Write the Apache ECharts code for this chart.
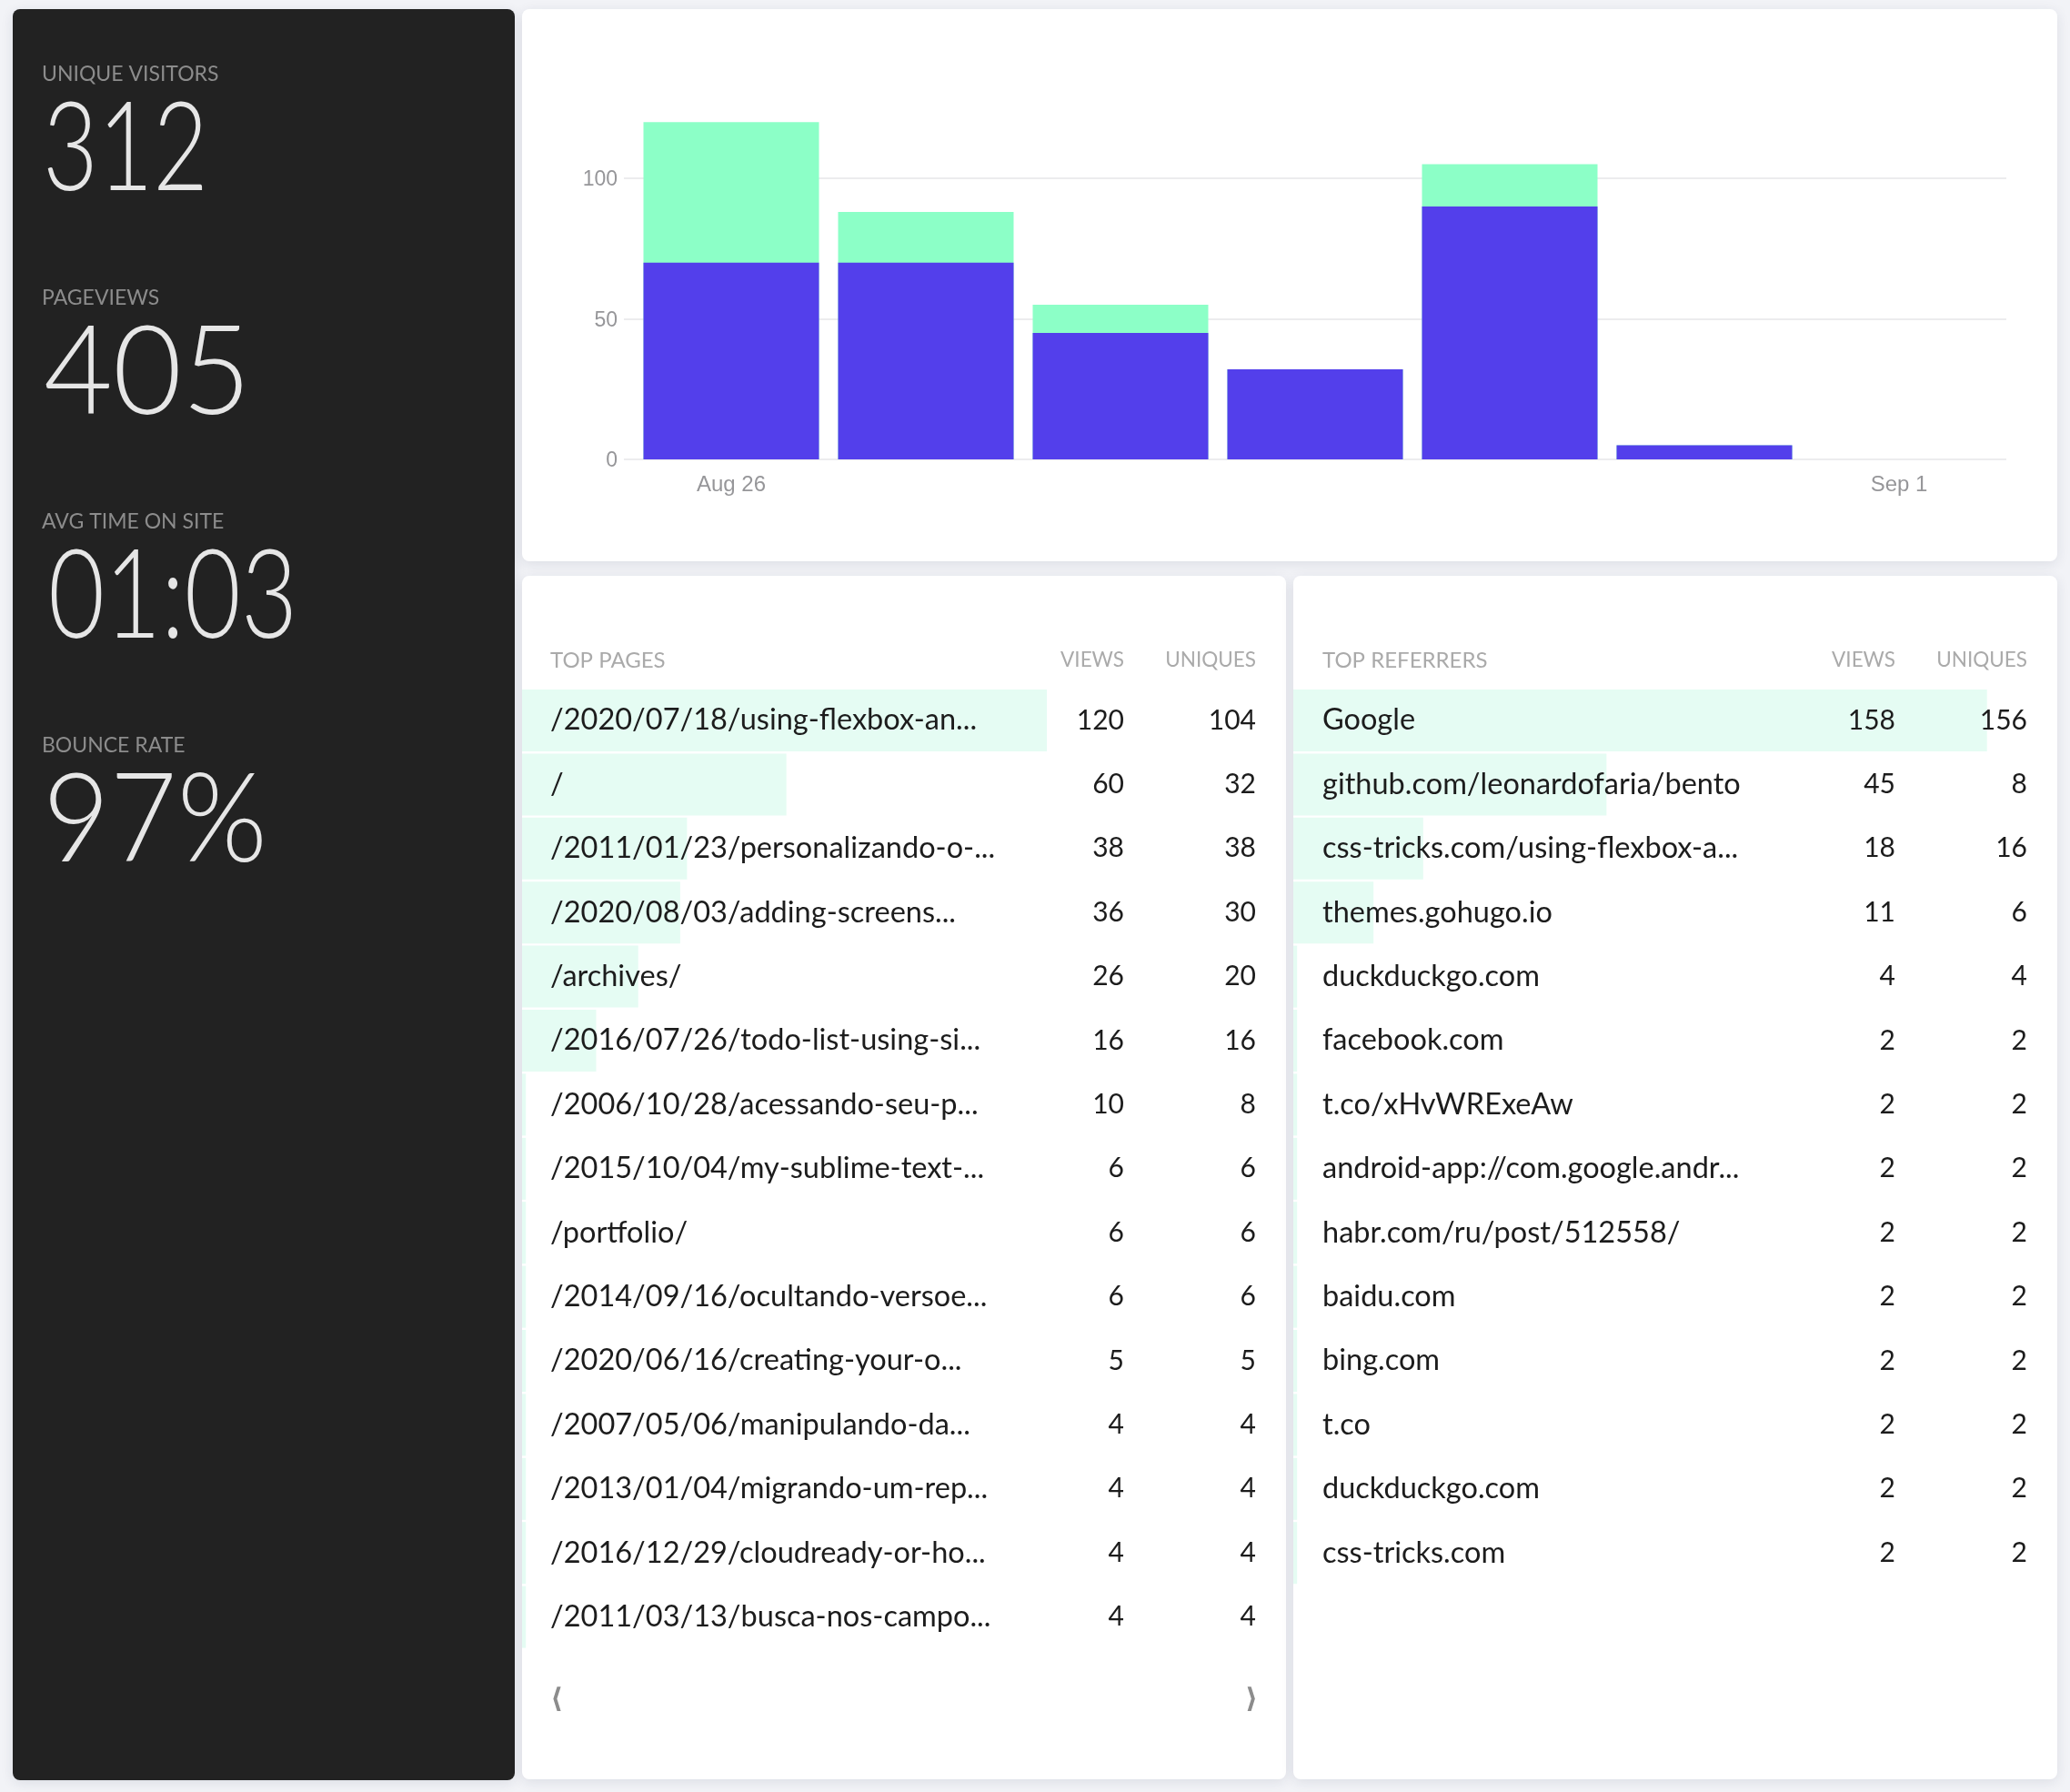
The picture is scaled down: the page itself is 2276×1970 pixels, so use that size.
<!DOCTYPE html>
<html>
<head>
<meta charset="utf-8">
<title>Site stats</title>
<script src="https://cdn.jsdelivr.net/npm/echarts@6/dist/echarts.min.js"></script>
<style>
  html, body { margin: 0; padding: 0; background: #f2f3f7; }
  #main { width: 2276px; height: 1970px; }
</style>
</head>
<body>
<div id="main"></div>
<script>
// daily chart
var days = ["Aug 26", "Aug 27", "Aug 28", "Aug 29", "Aug 30", "Aug 31", "Sep 1"];
var dayViews = [120, 88, 55, 32, 105, 5, 0];
var dayUniques = [70, 70, 45, 32, 90, 5, 0];

// left panel
var statLabels = ["UNIQUE VISITORS", "PAGEVIEWS", "AVG TIME ON SITE", "BOUNCE RATE"];
var statValues = ["312", "405", "01:03", "97%"];

// top pages
var pagePaths = [
    "/2020/07/18/using-flexbox-an...", "/", "/2011/01/23/personalizando-o-...",
    "/2020/08/03/adding-screens...", "/archives/", "/2016/07/26/todo-list-using-si...",
    "/2006/10/28/acessando-seu-p...", "/2015/10/04/my-sublime-text-...", "/portfolio/",
    "/2014/09/16/ocultando-versoe...", "/2020/06/16/creating-your-o...", "/2007/05/06/manipulando-da...",
    "/2013/01/04/migrando-um-rep...", "/2016/12/29/cloudready-or-ho...", "/2011/03/13/busca-nos-campo..."
];
var pageViews = [120, 60, 38, 36, 26, 16, 10, 6, 6, 6, 5, 4, 4, 4, 4];
var pageUniques = [104, 32, 38, 30, 20, 16, 8, 6, 6, 6, 5, 4, 4, 4, 4];
var pageBars = [68.7, 34.6, 21.6, 20.7, 15.2, 9.7, 0.5, 0.5, 0.5, 0.5, 0.5, 0.5, 0.5, 0.5, 0.5];

// top referrers
var refNames = [
    "Google", "github.com/leonardofaria/bento", "css-tricks.com/using-flexbox-a...",
    "themes.gohugo.io", "duckduckgo.com", "facebook.com", "t.co/xHvWRExeAw",
    "android-app://com.google.andr...", "habr.com/ru/post/512558/", "baidu.com",
    "bing.com", "t.co", "duckduckgo.com", "css-tricks.com"
];
var refViews = [158, 45, 18, 11, 4, 2, 2, 2, 2, 2, 2, 2, 2, 2];
var refUniques = [156, 8, 16, 6, 4, 2, 2, 2, 2, 2, 2, 2, 2, 2];
var refBars = [90.8, 41, 17, 10.5, 0.5, 0.5, 0.5, 0.5, 0.5, 0.5, 0.5, 0.5, 0.5, 0.5];

var TEXT_FONT = "Lato";
var ROW = 70.4;

var myChart = echarts.init(document.getElementById("main"));

function panel(x, y, w, h, color) {
    return {
        type: "rect", z: -10, silent: true,
        shape: { x: x, y: y, width: w, height: h, r: 8 },
        style: { fill: color, shadowBlur: 14, shadowColor: "rgba(30,35,70,0.10)", shadowOffsetY: 3 }
    };
}

function label(text, x, y, color, size, align) {
    return {
        type: "text", z: 50, silent: true, x: x, y: y,
        style: {
            text: text, fill: color, textAlign: align || "left", textVerticalAlign: "middle",
            font: size + "px " + TEXT_FONT
        }
    };
}

// big numbers: the original face is narrow, so squeeze to the measured width
var measure = document.createElement("canvas").getContext("2d");
function bigNumber(text, x, y, width) {
    var font = "300 136px " + TEXT_FONT;
    measure.font = font;
    return {
        type: "text", z: 50, silent: true, x: x, y: y,
        scaleX: width / measure.measureText(text).width,
        style: { text: text, fill: "#e6e6e6", textVerticalAlign: "middle", font: font }
    };
}

var elements = [
    panel(14, 10, 552, 1947, "#222222"),
    panel(574, 10, 1688, 607, "#ffffff"),
    panel(574, 633, 840, 1323, "#ffffff"),
    panel(1422, 633, 840, 1323, "#ffffff")
];

var statX = [47, 48, 53, 47];
var statW = [182, 228, 274, 247];
for (var i = 0; i < statLabels.length; i++) {
    elements.push(label(statLabels[i], 46, 82 + i * 246, "#8c8c8c", 23));
    elements.push(bigNumber(statValues[i], statX[i], 165 + i * 246, statW[i]));
}

elements.push(label("TOP PAGES", 605, 726, "#aaaaaa", 24));
elements.push(label("VIEWS", 1236, 726, "#aaaaaa", 22.5, "right"));
elements.push(label("UNIQUES", 1381, 726, "#aaaaaa", 22.5, "right"));
elements.push(label("TOP REFERRERS", 1454, 726, "#aaaaaa", 24));
elements.push(label("VIEWS", 2084, 726, "#aaaaaa", 22.5, "right"));
elements.push(label("UNIQUES", 2229, 726, "#aaaaaa", 22.5, "right"));

// pager
elements.push({ type: "text", z: 50, silent: true, x: 612, y: 1869,
    style: { text: "\u27E8", fill: "#8c8c8c", textAlign: "center", textVerticalAlign: "middle", font: "bold 30px 'DejaVu Sans'" } });
elements.push({ type: "text", z: 50, silent: true, x: 1376, y: 1869,
    style: { text: "\u27E9", fill: "#8c8c8c", textAlign: "center", textVerticalAlign: "middle", font: "bold 30px 'DejaVu Sans'" } });

function tableAxis(gridIndex, names, position, inside, size) {
    return {
        type: "category", gridIndex: gridIndex, data: names, inverse: true, position: position, z: 10,
        axisLine: { show: false }, axisTick: { show: false }, splitLine: { show: false },
        axisLabel: {
            inside: true, interval: 0, margin: inside, color: "#1c1c1c", fontSize: size, fontFamily: TEXT_FONT,
            align: position === "left" ? "left" : "right"
        }
    };
}

function toText(list) {
    return list.map(function (v) { return String(v); });
}

function tableBars(xAxisIndex, yAxisIndex, data) {
    return {
        type: "bar", xAxisIndex: xAxisIndex, yAxisIndex: yAxisIndex, data: data, barWidth: 68,
        itemStyle: { color: "#e5fcf3" }, silent: true, animation: false
    };
}

var option = {
    animation: false,
    backgroundColor: "#f2f3f7",
    graphic: { elements: elements },
    grid: [
        // gridlines run a little past the bars on both sides
        { left: 686, top: 41.5, width: 1520, height: 463.5 },
        { left: 697, top: 41.5, width: 1498, height: 463.5 },
        { left: 574, top: 756.8, width: 840, height: ROW * pageBars.length },
        { left: 1422, top: 756.8, width: 840, height: ROW * refBars.length }
    ],
    xAxis: [
        { type: "category", gridIndex: 0, data: days, show: false },
        {
            type: "category", gridIndex: 1, data: days,
            axisLine: { show: false },
            axisTick: { alignWithLabel: true, interval: 0, length: 11, lineStyle: { color: "#ececee", width: 1.5 } },
            axisLabel: {
                color: "#969699", fontSize: 24, fontFamily: "Liberation Sans", margin: 16,
                interval: function (index) { return index === 0 || index === days.length - 1; }
            }
        },
        { type: "value", gridIndex: 2, min: 0, max: 100, show: false },
        { type: "value", gridIndex: 3, min: 0, max: 100, show: false }
    ],
    yAxis: [
        {
            type: "value", gridIndex: 0, min: 0, max: 150, interval: 50,
            axisLine: { show: false }, axisTick: { show: false },
            axisLabel: {
                color: "#969699", fontSize: 23, fontFamily: "Liberation Sans", margin: 7,
                showMaxLabel: false, verticalAlign: "top", lineHeight: 4
            },
            splitLine: { showMaxLine: false, lineStyle: { color: "#ececee", width: 2 } }
        },
        { type: "value", gridIndex: 1, min: 0, max: 150, interval: 50, show: false },
        tableAxis(2, pagePaths, "left", 31, 32.5),
        tableAxis(2, toText(pageViews), "right", 178, 30),
        tableAxis(2, toText(pageUniques), "right", 33, 30),
        tableAxis(3, refNames, "left", 32, 32.5),
        tableAxis(3, toText(refViews), "right", 178, 30),
        tableAxis(3, toText(refUniques), "right", 33, 30)
    ],
    series: [
        {
            name: "Views", type: "bar", xAxisIndex: 1, yAxisIndex: 1, data: dayViews,
            barWidth: 193, barGap: "-100%", itemStyle: { color: "#8cffc7" }
        },
        {
            name: "Uniques", type: "bar", xAxisIndex: 1, yAxisIndex: 1, data: dayUniques,
            barWidth: 193, barGap: "-100%", itemStyle: { color: "#533feb" }
        },
        tableBars(2, 2, pageBars),
        tableBars(3, 5, refBars)
    ]
};

myChart.setOption(option);
</script>
</body>
</html>
